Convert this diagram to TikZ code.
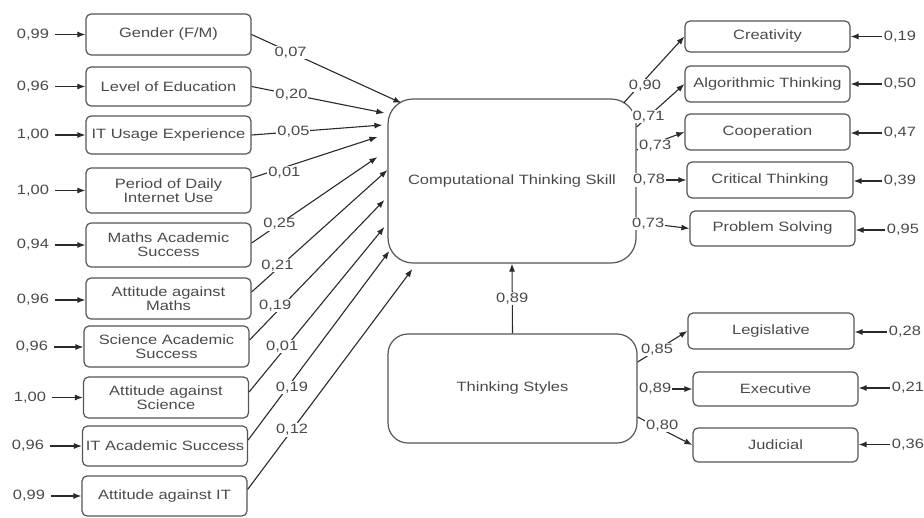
\documentclass[tikz,border=0pt]{standalone}
\usepackage{fontspec}
\setmainfont{Liberation Sans}[FakeStretch=1.22]
\usetikzlibrary{arrows.meta}
\definecolor{txt}{HTML}{4A4A4A}
\definecolor{edge}{HTML}{555555}
\definecolor{wire}{HTML}{2A2A2A}
\begin{document}
\begin{tikzpicture}[x=1pt,y=-1pt,
  every node/.style={font=\fontsize{13.5}{14}\selectfont, text=txt},
  var/.style={draw=edge, line width=1.2pt, rounded corners=5pt, align=center,
              inner sep=2pt, minimum width=165pt},
  latent/.style={draw=edge, line width=1.2pt, align=center, inner sep=2pt},
  err/.style={inner sep=2pt},
  coef/.style={fill=white, inner sep=1pt},
  link/.style={draw=wire, line width=1.1pt, -{Latex[length=8pt,width=6pt]}},
  errlink/.style={link, shorten <=4pt}
]
\path[use as bounding box] (0,0) rectangle (924,517);

% ---- observed predictors (left column) ----
\node[var, minimum height=41pt] (gen) at (168.5,34.5) {Gender (F/M)};
\node[var, minimum height=39pt] (edu) at (168.5,86.5) {Level of Education};
\node[var, minimum height=38pt] (itu) at (168.5,135) {IT Usage Experience};
\node[var, minimum height=45pt] (per) at (168.5,190.5) {Period of Daily\\Internet Use};
\node[var, minimum height=44pt] (mas) at (168.5,245) {Maths Academic\\Success};
\node[var, minimum height=41pt] (atm) at (168.5,298.5) {Attitude against\\Maths};
\node[var, minimum height=41pt] (sas) at (166.5,346.5) {Science Academic\\Success};
\node[var, minimum height=41pt] (ats) at (166,397.5) {Attitude against\\Science};
\node[var, minimum height=40pt] (ias) at (165,446) {IT Academic Success};
\node[var, minimum height=40pt] (ati) at (164.5,496) {Attitude against IT};

% ---- latent constructs ----
\node[latent, rounded corners=25pt, minimum width=248pt, minimum height=164pt]
  (cts) at (512,181) {Computational Thinking Skill};
\node[latent, rounded corners=20pt, minimum width=249pt, minimum height=109pt]
  (tst) at (512.5,388.5) {Thinking Styles};

% ---- indicators (right column) ----
\node[var, minimum height=31pt] (cre) at (767.5,36.5) {Creativity};
\node[var, minimum height=36pt] (alg) at (767.5,84) {Algorithmic Thinking};
\node[var, minimum height=36pt] (coo) at (767.5,132) {Cooperation};
\node[var, minimum height=36pt, minimum width=166pt] (crt) at (770,180) {Critical Thinking};
\node[var, minimum height=35pt] (prb) at (772.5,228.5) {Problem Solving};
\node[var, minimum height=36pt, minimum width=166pt] (leg) at (771,331) {Legislative};
\node[var, minimum height=34pt] (exe) at (775.5,389) {Executive};
\node[var, minimum height=34pt] (jud) at (775.5,445) {Judicial};

% ---- error terms, left ----
\node[err] (e1) at (33,34.5) {0,99};
\node[err] (e2) at (33,86.5) {0,96};
\node[err] (e3) at (33,135) {1,00};
\node[err] (e4) at (33,190.5) {1,00};
\node[err] (e5) at (33,245) {0,94};
\node[err] (e6) at (33,300) {0,96};
\node[err] (e7) at (32,347) {0,96};
\node[err] (e8) at (30,397.5) {1,00};
\node[err] (e9) at (28,446) {0,96};
\node[err] (e10) at (29,496) {0,99};
\foreach \e/\b in {e1/gen,e2/edu,e3/itu,e4/per,e5/mas,e6/atm,e7/sas,e8/ats,e9/ias,e10/ati}
  \draw[errlink] (\e.east) -- (\e.east -| \b.west);

% ---- error terms, right ----
\node[err] (r1) at (900,36.5) {0,19};
\node[err] (r2) at (900,84) {0,50};
\node[err] (r3) at (900,133) {0,47};
\node[err] (r4) at (900,181) {0,39};
\node[err] (r5) at (903,230) {0,95};
\node[err] (r6) at (905,332) {0,28};
\node[err] (r7) at (908,388) {0,21};
\node[err] (r8) at (908,444.5) {0,36};
\foreach \e/\b in {r1/cre,r2/alg,r3/coo,r4/crt,r5/prb,r6/leg,r7/exe,r8/jud}
  \draw[link] (\e.west) -- (\e.west -| \b.east);

% ---- paths into Computational Thinking Skill ----
\draw[link] (gen.east) -- node[coef, pos=0.26] {0,07} ([xshift=14pt,yshift=78pt]cts.west);
\draw[link] (edu.east) -- node[coef, pos=0.30] {0,20} ([xshift=-3pt,yshift=68pt]cts.west);
\draw[link] (itu.east) -- node[coef, pos=0.32] {0,05} ([xshift=-5pt,yshift=56pt]cts.west);
\draw[link] ([yshift=12.5pt]per.east) -- node[coef, pos=0.26, yshift=-5pt] {0,01} ([xshift=-10pt,yshift=44pt]cts.west);
\draw[link] ([yshift=2pt]mas.east) -- node[coef, pos=0.22] {0,25} ([xshift=-10pt,yshift=24pt]cts.west);
\draw[link] ([yshift=6.5pt]atm.east) -- node[coef, pos=0.19, yshift=3pt] {0,21} ([yshift=11pt]cts.west);
\draw[link] ([yshift=6.5pt]sas.east) -- node[coef, pos=0.19, yshift=8pt] {0,19} ([xshift=-3pt,yshift=-19pt]cts.west);
\draw[link] ([yshift=5.5pt]ats.east) -- node[coef, pos=0.245, yshift=5pt] {0,01} ([xshift=-3pt,yshift=-46pt]cts.west);
\draw[link] ([yshift=6pt]ias.east) -- node[coef, pos=0.31, yshift=-6pt] {0,19} ([xshift=2pt,yshift=-70pt]cts.west);
\draw[link] ([yshift=6.5pt]ati.east) -- node[coef, pos=0.27] {0,12} ([xshift=25pt,yshift=-88pt]cts.west);

\draw[link] (tst.north) -- node[coef] {0,89} (cts.south);

% ---- loadings on indicators ----
\draw[link] ([xshift=-13pt,yshift=78pt]cts.east) -- node[coef, pos=0.35, yshift=-6pt] {0,90} (cre.west);
\draw[link] ([yshift=54pt]cts.east) -- node[coef, pos=0.25] {0,71} (alg.west);
\draw[link] ([yshift=31pt]cts.east) -- node[coef, pos=0.39, yshift=-3pt] {0,73} (coo.west);
\draw[link] (cts.east |- crt.west) -- node[coef, pos=0.25] {0,78} (crt.west);
\draw[link] ([yshift=-41pt]cts.east) -- node[coef, pos=0.22] {0,73} (prb.west);
\draw[link] ([yshift=26.5pt]tst.east) -- node[coef, pos=0.39] {0,85} (leg.west);
\draw[link] (tst.east |- exe.west) -- node[coef, pos=0.32] {0,89} (exe.west);
\draw[link] ([yshift=-28.5pt]tst.east) -- node[coef, pos=0.45, yshift=4pt] {0,80} (jud.west);
\end{tikzpicture}
\end{document}
